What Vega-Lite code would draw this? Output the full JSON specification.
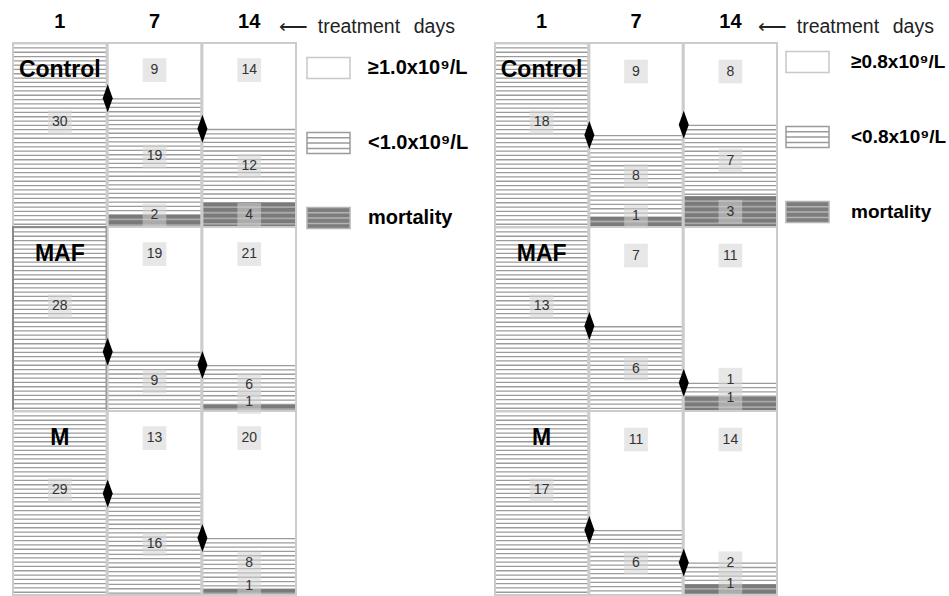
{
  "$schema": "https://vega.github.io/schema/vega-lite/v6.json",
  "background": "#ffffff",
  "padding": {"left": 12, "top": -4, "right": 0, "bottom": 0},
  "config": {"view": {"stroke": null}, "font": "Liberation Sans", "axis": {"grid": false}},
  "datasets": {
    "left": [
      {"group": "Control", "day": "1", "cat": "low", "n": 30},
      {"group": "Control", "day": "7", "cat": "high", "n": 9},
      {"group": "Control", "day": "7", "cat": "low", "n": 19},
      {"group": "Control", "day": "7", "cat": "mort", "n": 2},
      {"group": "Control", "day": "14", "cat": "high", "n": 14},
      {"group": "Control", "day": "14", "cat": "low", "n": 12},
      {"group": "Control", "day": "14", "cat": "mort", "n": 4},
      {"group": "MAF", "day": "1", "cat": "low", "n": 28},
      {"group": "MAF", "day": "7", "cat": "high", "n": 19},
      {"group": "MAF", "day": "7", "cat": "low", "n": 9},
      {"group": "MAF", "day": "14", "cat": "high", "n": 21},
      {"group": "MAF", "day": "14", "cat": "low", "n": 6},
      {"group": "MAF", "day": "14", "cat": "mort", "n": 1},
      {"group": "M", "day": "1", "cat": "low", "n": 29},
      {"group": "M", "day": "7", "cat": "high", "n": 13},
      {"group": "M", "day": "7", "cat": "low", "n": 16},
      {"group": "M", "day": "14", "cat": "high", "n": 20},
      {"group": "M", "day": "14", "cat": "low", "n": 8},
      {"group": "M", "day": "14", "cat": "mort", "n": 1}
    ],
    "right": [
      {"group": "Control", "day": "1", "cat": "low", "n": 18},
      {"group": "Control", "day": "7", "cat": "high", "n": 9},
      {"group": "Control", "day": "7", "cat": "low", "n": 8},
      {"group": "Control", "day": "7", "cat": "mort", "n": 1},
      {"group": "Control", "day": "14", "cat": "high", "n": 8},
      {"group": "Control", "day": "14", "cat": "low", "n": 7},
      {"group": "Control", "day": "14", "cat": "mort", "n": 3},
      {"group": "MAF", "day": "1", "cat": "low", "n": 13},
      {"group": "MAF", "day": "7", "cat": "high", "n": 7},
      {"group": "MAF", "day": "7", "cat": "low", "n": 6},
      {"group": "MAF", "day": "14", "cat": "high", "n": 11},
      {"group": "MAF", "day": "14", "cat": "low", "n": 1},
      {"group": "MAF", "day": "14", "cat": "mort", "n": 1},
      {"group": "M", "day": "1", "cat": "low", "n": 17},
      {"group": "M", "day": "7", "cat": "high", "n": 11},
      {"group": "M", "day": "7", "cat": "low", "n": 6},
      {"group": "M", "day": "14", "cat": "high", "n": 14},
      {"group": "M", "day": "14", "cat": "low", "n": 2},
      {"group": "M", "day": "14", "cat": "mort", "n": 1}
    ]
  },
  "resolve": {
    "scale": {"fill": "independent", "stroke": "independent", "shape": "independent"},
    "legend": {"fill": "independent", "stroke": "independent", "shape": "independent"}
  },
  "spacing": 25,
  "hconcat": [
    {
      "width": 283,
      "height": 552,
      "data": {"name": "left"},
      "transform": [
        {"stack": "n", "groupby": ["group", "day"], "sort": [{"field": "cat", "order": "ascending"}], "offset": "normalize", "as": ["s0", "s1"]},
        {"calculate": "indexof(['Control','MAF','M'], datum.group)", "as": "gi"},
        {"calculate": "datum.gi + datum.s0", "as": "ya"},
        {"calculate": "datum.gi + datum.s1", "as": "yb"},
        {"calculate": "datum.gi + 1", "as": "gb"},
        {"calculate": "datum.cat == 'high' ? datum.ya + 0.147 : (datum.day == '1' ? datum.ya + 0.43 : (datum.ya + datum.yb) / 2 - (datum.cat == 'low' && datum.yb - datum.ya < 0.15 ? 0.055 : 0) - (datum.cat == 'mort' && datum.yb - datum.ya < 0.1 ? 0.03 : 0))", "as": "ylab"}
      ],
      "encoding": {
        "x": {"field": "day", "type": "ordinal", "sort": ["1", "7", "14"], "scale": {"paddingInner": 0.012, "paddingOuter": 0},
          "axis": {"orient": "top", "title": null, "ticks": false, "domain": false, "labelAngle": 0, "labelFont": "Liberation Sans", "labelFontSize": 20, "labelFontWeight": "bold", "labelColor": "#000000", "labelPadding": 12}}
      },
      "layer": [
        {
          "mark": {"type": "bar", "stroke": null},
          "encoding": {
            "y": {"field": "ya", "type": "quantitative", "scale": {"domain": [0, 3], "reverse": true, "nice": false, "zero": false}, "axis": null},
            "y2": {"field": "yb"},
            "fill": {"condition": {"test": "datum.cat == 'mort'", "value": "#a9a9a9"}, "value": "#ffffff"}
          }
        },
        {
          "transform": [{"filter": "datum.cat == 'low'"}],
          "mark": {"type": "rule", "strokeWidth": 93.5, "stroke": "#9b9b9b", "strokeDash": [1.3, 3.0], "strokeCap": "butt"},
          "encoding": {
            "y": {"field": "ya", "type": "quantitative", "scale": {"domain": [0, 3], "reverse": true, "nice": false, "zero": false}, "axis": null},
            "y2": {"field": "yb"}
          }
        },
        {
          "transform": [{"filter": "datum.cat == 'mort'"}],
          "mark": {"type": "rule", "strokeWidth": 93.5, "stroke": "#7a7a7a", "strokeDash": [3.8, 1.8], "strokeCap": "butt"},
          "encoding": {
            "y": {"field": "ya", "type": "quantitative", "scale": {"domain": [0, 3], "reverse": true, "nice": false, "zero": false}, "axis": null},
            "y2": {"field": "yb"}
          }
        },
        {
          "transform": [{"filter": "datum.cat == 'low'"}],
          "mark": {"type": "bar", "fillOpacity": 0, "strokeWidth": 2},
          "encoding": {
            "y": {"field": "gi", "type": "quantitative", "scale": {"domain": [0, 3], "reverse": true, "nice": false, "zero": false}, "axis": null},
            "y2": {"field": "gb"},
            "stroke": {"condition": {"test": "datum.group == 'MAF' && datum.day == '1'", "value": "#8a8a8a"}, "value": "#cccccc"}
          }
        },
        {
          "transform": [{"filter": "datum.cat == 'low' && datum.day != '1'"}],
          "mark": {"type": "point", "filled": true, "shape": "M0,-1L0.36,0L0,1L-0.36,0Z", "size": 784, "color": "#000000", "opacity": 1},
          "encoding": {
            "x": {"field": "day", "type": "ordinal", "sort": ["1", "7", "14"], "bandPosition": 0},
            "y": {"field": "ya", "type": "quantitative", "scale": {"domain": [0, 3], "reverse": true, "nice": false, "zero": false}, "axis": null}
          }
        },
        {
          "mark": {"type": "point", "shape": "square", "filled": true, "size": 560, "color": "#d4d4d4", "opacity": 0.55},
          "encoding": {
            "y": {"field": "ylab", "type": "quantitative", "scale": {"domain": [0, 3], "reverse": true, "nice": false, "zero": false}, "axis": null}
          }
        },
        {
          "mark": {"type": "text", "font": "Liberation Sans", "fontSize": 14, "color": "#333333", "baseline": "middle"},
          "encoding": {
            "y": {"field": "ylab", "type": "quantitative", "scale": {"domain": [0, 3], "reverse": true, "nice": false, "zero": false}, "axis": null},
            "text": {"field": "n", "type": "quantitative"}
          }
        },
        {
          "transform": [{"filter": "datum.cat == 'low' && datum.day == '1'"}],
          "mark": {"type": "text", "font": "Liberation Sans", "fontSize": 23, "fontWeight": "bold", "color": "#000000", "baseline": "middle", "dy": 27},
          "encoding": {
            "y": {"field": "ya", "type": "quantitative", "scale": {"domain": [0, 3], "reverse": true, "nice": false, "zero": false}, "axis": null},
            "text": {"field": "group", "type": "nominal"}
          }
        },
        {
          "mark": {"type": "point", "filled": true, "opacity": 0},
          "encoding": {
            "y": {"field": "ylab", "type": "quantitative", "scale": {"domain": [0, 3], "reverse": true, "nice": false, "zero": false}, "axis": null},
            "fill": {"field": "cat", "type": "nominal", "scale": {"domain": ["high", "low", "mort"], "range": ["#ffffff", "#ffffff", "#7d7d7d"]},
              "legend": {"title": "⟵\u2002treatment\u2002\u2009days", "orient": "none", "direction": "vertical", "legendX": 266, "legendY": -25, "symbolOffset": 27, "symbolSize": 1849, "symbolStrokeWidth": 1.5, "symbolOpacity": 1, "labelExpr": "datum.value == 'high' ? '≥1.0x10⁹/L' : datum.value == 'low' ? '<1.0x10⁹/L' : 'mortality'", "labelFont": "Liberation Sans", "labelFontSize": 20, "labelFontWeight": "bold", "labelColor": "#000000", "labelOffset": 17, "labelLimit": 300, "titleFont": "Liberation Sans", "titleFontSize": 19.5, "titleFontWeight": "normal", "titleColor": "#222222", "titlePadding": 8, "titleLimit": 300, "rowPadding": 38}},
            "stroke": {"field": "cat", "type": "nominal", "scale": {"domain": ["high", "low", "mort"], "range": ["#c8c8c8", "#9a9a9a", "#b4b4b4"]},
              "legend": {"title": "⟵\u2002treatment\u2002\u2009days", "orient": "none", "direction": "vertical", "legendX": 266, "legendY": -25, "symbolOffset": 27, "symbolSize": 1849, "symbolStrokeWidth": 1.5, "symbolOpacity": 1, "labelExpr": "datum.value == 'high' ? '≥1.0x10⁹/L' : datum.value == 'low' ? '<1.0x10⁹/L' : 'mortality'", "labelFont": "Liberation Sans", "labelFontSize": 20, "labelFontWeight": "bold", "labelColor": "#000000", "labelOffset": 17, "labelLimit": 300, "titleFont": "Liberation Sans", "titleFontSize": 19.5, "titleFontWeight": "normal", "titleColor": "#222222", "titlePadding": 8, "titleLimit": 300, "rowPadding": 38}},
            "shape": {"field": "cat", "type": "nominal", "scale": {"domain": ["high", "low", "mort"], "range": ["M-1,-0.49H1V0.49H-1Z", "M-1,-0.49H1V0.49H-1Z M-1,-0.25H1 M-1,0H1 M-1,0.25H1", "M-1,-0.49H1V0.49H-1Z M-1,-0.25H1 M-1,0H1 M-1,0.25H1"]},
              "legend": {"title": "⟵\u2002treatment\u2002\u2009days", "orient": "none", "direction": "vertical", "legendX": 266, "legendY": -25, "symbolOffset": 27, "symbolSize": 1849, "symbolStrokeWidth": 1.5, "symbolOpacity": 1, "labelExpr": "datum.value == 'high' ? '≥1.0x10⁹/L' : datum.value == 'low' ? '<1.0x10⁹/L' : 'mortality'", "labelFont": "Liberation Sans", "labelFontSize": 20, "labelFontWeight": "bold", "labelColor": "#000000", "labelOffset": 17, "labelLimit": 300, "titleFont": "Liberation Sans", "titleFontSize": 19.5, "titleFontWeight": "normal", "titleColor": "#222222", "titlePadding": 8, "titleLimit": 300, "rowPadding": 38}}
          }
        }
      ]
    },
    {
      "width": 282,
      "height": 552,
      "data": {"name": "right"},
      "transform": [
        {"stack": "n", "groupby": ["group", "day"], "sort": [{"field": "cat", "order": "ascending"}], "offset": "normalize", "as": ["s0", "s1"]},
        {"calculate": "indexof(['Control','MAF','M'], datum.group)", "as": "gi"},
        {"calculate": "datum.gi + datum.s0", "as": "ya"},
        {"calculate": "datum.gi + datum.s1", "as": "yb"},
        {"calculate": "datum.gi + 1", "as": "gb"},
        {"calculate": "datum.cat == 'high' ? datum.ya + 0.155 : (datum.day == '1' ? datum.ya + 0.43 : (datum.ya + datum.yb) / 2 - (datum.cat == 'low' && datum.yb - datum.ya < 0.15 ? 0.055 : 0) - (datum.cat == 'mort' && datum.yb - datum.ya < 0.1 ? 0.03 : 0))", "as": "ylab"}
      ],
      "encoding": {
        "x": {"field": "day", "type": "ordinal", "sort": ["1", "7", "14"], "scale": {"paddingInner": 0.012, "paddingOuter": 0},
          "axis": {"orient": "top", "title": null, "ticks": false, "domain": false, "labelAngle": 0, "labelFont": "Liberation Sans", "labelFontSize": 20, "labelFontWeight": "bold", "labelColor": "#000000", "labelPadding": 12}}
      },
      "layer": [
        {
          "mark": {"type": "bar", "stroke": null},
          "encoding": {
            "y": {"field": "ya", "type": "quantitative", "scale": {"domain": [0, 3], "reverse": true, "nice": false, "zero": false}, "axis": null},
            "y2": {"field": "yb"},
            "fill": {"condition": {"test": "datum.cat == 'mort'", "value": "#a9a9a9"}, "value": "#ffffff"}
          }
        },
        {
          "transform": [{"filter": "datum.cat == 'low'"}],
          "mark": {"type": "rule", "strokeWidth": 93, "stroke": "#9b9b9b", "strokeDash": [1.3, 3.0], "strokeCap": "butt"},
          "encoding": {
            "y": {"field": "ya", "type": "quantitative", "scale": {"domain": [0, 3], "reverse": true, "nice": false, "zero": false}, "axis": null},
            "y2": {"field": "yb"}
          }
        },
        {
          "transform": [{"filter": "datum.cat == 'mort'"}],
          "mark": {"type": "rule", "strokeWidth": 93, "stroke": "#7a7a7a", "strokeDash": [3.8, 1.8], "strokeCap": "butt"},
          "encoding": {
            "y": {"field": "ya", "type": "quantitative", "scale": {"domain": [0, 3], "reverse": true, "nice": false, "zero": false}, "axis": null},
            "y2": {"field": "yb"}
          }
        },
        {
          "transform": [{"filter": "datum.cat == 'low'"}],
          "mark": {"type": "bar", "fillOpacity": 0, "strokeWidth": 2, "stroke": "#cccccc"},
          "encoding": {
            "y": {"field": "gi", "type": "quantitative", "scale": {"domain": [0, 3], "reverse": true, "nice": false, "zero": false}, "axis": null},
            "y2": {"field": "gb"}
          }
        },
        {
          "transform": [{"filter": "datum.cat == 'low' && datum.day != '1'"}],
          "mark": {"type": "point", "filled": true, "shape": "M0,-1L0.36,0L0,1L-0.36,0Z", "size": 784, "color": "#000000", "opacity": 1},
          "encoding": {
            "x": {"field": "day", "type": "ordinal", "sort": ["1", "7", "14"], "bandPosition": 0},
            "y": {"field": "ya", "type": "quantitative", "scale": {"domain": [0, 3], "reverse": true, "nice": false, "zero": false}, "axis": null}
          }
        },
        {
          "mark": {"type": "point", "shape": "square", "filled": true, "size": 560, "color": "#d4d4d4", "opacity": 0.55},
          "encoding": {
            "y": {"field": "ylab", "type": "quantitative", "scale": {"domain": [0, 3], "reverse": true, "nice": false, "zero": false}, "axis": null}
          }
        },
        {
          "mark": {"type": "text", "font": "Liberation Sans", "fontSize": 14, "color": "#333333", "baseline": "middle"},
          "encoding": {
            "y": {"field": "ylab", "type": "quantitative", "scale": {"domain": [0, 3], "reverse": true, "nice": false, "zero": false}, "axis": null},
            "text": {"field": "n", "type": "quantitative"}
          }
        },
        {
          "transform": [{"filter": "datum.cat == 'low' && datum.day == '1'"}],
          "mark": {"type": "text", "font": "Liberation Sans", "fontSize": 23, "fontWeight": "bold", "color": "#000000", "baseline": "middle", "dy": 27},
          "encoding": {
            "y": {"field": "ya", "type": "quantitative", "scale": {"domain": [0, 3], "reverse": true, "nice": false, "zero": false}, "axis": null},
            "text": {"field": "group", "type": "nominal"}
          }
        },
        {
          "mark": {"type": "point", "filled": true, "opacity": 0},
          "encoding": {
            "y": {"field": "ylab", "type": "quantitative", "scale": {"domain": [0, 3], "reverse": true, "nice": false, "zero": false}, "axis": null},
            "fill": {"field": "cat", "type": "nominal", "scale": {"domain": ["high", "low", "mort"], "range": ["#ffffff", "#ffffff", "#7d7d7d"]},
              "legend": {"title": "⟵\u2002treatment\u2002\u2009days", "orient": "none", "direction": "vertical", "legendX": 263, "legendY": -25, "symbolOffset": 27, "symbolSize": 1849, "symbolStrokeWidth": 1.5, "symbolOpacity": 1, "labelExpr": "datum.value == 'high' ? '≥0.8x10⁹/L' : datum.value == 'low' ? '<0.8x10⁹/L' : 'mortality'", "labelFont": "Liberation Sans", "labelFontSize": 19, "labelFontWeight": "bold", "labelColor": "#000000", "labelOffset": 21, "labelLimit": 300, "titleFont": "Liberation Sans", "titleFontSize": 19.5, "titleFontWeight": "normal", "titleColor": "#222222", "titlePadding": 2, "titleLimit": 300, "rowPadding": 38}},
            "stroke": {"field": "cat", "type": "nominal", "scale": {"domain": ["high", "low", "mort"], "range": ["#c8c8c8", "#9a9a9a", "#b4b4b4"]},
              "legend": {"title": "⟵\u2002treatment\u2002\u2009days", "orient": "none", "direction": "vertical", "legendX": 263, "legendY": -25, "symbolOffset": 27, "symbolSize": 1849, "symbolStrokeWidth": 1.5, "symbolOpacity": 1, "labelExpr": "datum.value == 'high' ? '≥0.8x10⁹/L' : datum.value == 'low' ? '<0.8x10⁹/L' : 'mortality'", "labelFont": "Liberation Sans", "labelFontSize": 19, "labelFontWeight": "bold", "labelColor": "#000000", "labelOffset": 21, "labelLimit": 300, "titleFont": "Liberation Sans", "titleFontSize": 19.5, "titleFontWeight": "normal", "titleColor": "#222222", "titlePadding": 2, "titleLimit": 300, "rowPadding": 38}},
            "shape": {"field": "cat", "type": "nominal", "scale": {"domain": ["high", "low", "mort"], "range": ["M-1,-0.49H1V0.49H-1Z", "M-1,-0.49H1V0.49H-1Z M-1,-0.25H1 M-1,0H1 M-1,0.25H1", "M-1,-0.49H1V0.49H-1Z M-1,-0.25H1 M-1,0H1 M-1,0.25H1"]},
              "legend": {"title": "⟵\u2002treatment\u2002\u2009days", "orient": "none", "direction": "vertical", "legendX": 263, "legendY": -25, "symbolOffset": 27, "symbolSize": 1849, "symbolStrokeWidth": 1.5, "symbolOpacity": 1, "labelExpr": "datum.value == 'high' ? '≥0.8x10⁹/L' : datum.value == 'low' ? '<0.8x10⁹/L' : 'mortality'", "labelFont": "Liberation Sans", "labelFontSize": 19, "labelFontWeight": "bold", "labelColor": "#000000", "labelOffset": 21, "labelLimit": 300, "titleFont": "Liberation Sans", "titleFontSize": 19.5, "titleFontWeight": "normal", "titleColor": "#222222", "titlePadding": 2, "titleLimit": 300, "rowPadding": 38}}
          }
        }
      ]
    }
  ]
}
